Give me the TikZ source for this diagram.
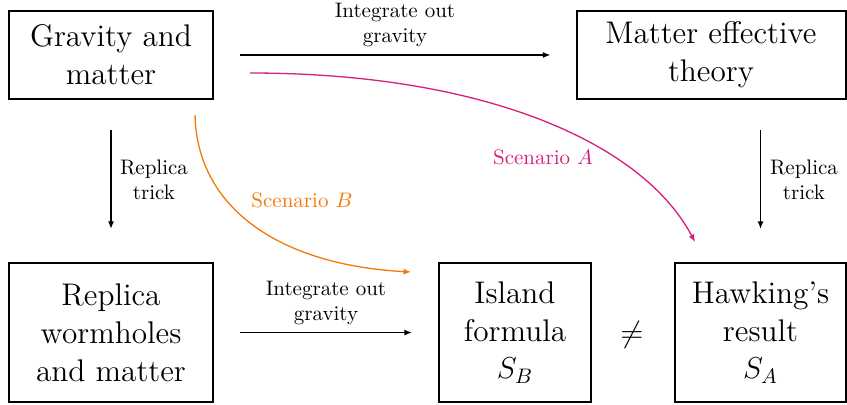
\documentclass[tikz,border=0pt]{standalone}
\usetikzlibrary{arrows.meta}
\definecolor{scA}{RGB}{214,30,122}
\definecolor{scB}{RGB}{243,122,10}
\begin{document}
\begin{tikzpicture}[x=0.47619pt,y=-0.47619pt,scale=2.1,every node/.style={transform shape},
  box/.style={draw, line width=2pt, align=center, font=\fontsize{14.9}{18}\selectfont, inner sep=0pt},
  lab/.style={align=center, font=\normalsize, inner sep=0pt},
  conn/.style={line width=1.3pt, -{Latex[length=7.5pt,width=6pt]}}]
\useasboundingbox (0,0) rectangle (847,404);
% boxes
\node[box, minimum width=97.14pt, minimum height=41.9pt] (G) at (111,55) {Gravity and\\matter};
\node[box, minimum width=128.1pt, minimum height=41.9pt] (M) at (711,55) {Matter effective\\theory};
\node[box, minimum width=97.14pt, minimum height=66.2pt] (R) at (111,332.5) {Replica\\wormholes\\and matter};
\node[box, minimum width=72.38pt, minimum height=66.2pt] (I) at (515,332.5) {Island\\formula\\$S_B$};
\node[box, minimum width=81.2pt, minimum height=66.2pt] (H) at (760.5,332.5) {Hawking's\\result\\$S_A$};
\node[font=\fontsize{14.9}{18}\selectfont, inner sep=0pt] (neq) at (632,335) {$\neq$};
% straight connectors
\draw[conn, shorten <=25pt, shorten >=24pt] (G.east) -- (M.west);
\draw[conn, shorten <=29pt, shorten >=32pt] (G.south) -- (R.north);
\draw[conn, shorten <=29pt, shorten >=32pt] (H.north |- M.south) -- (H.north);
\draw[conn, shorten <=25pt, shorten >=25pt] (R.east) -- (I.west);
% labels
\node[lab] (l1) at (395,25) {Integrate out\\gravity};
\node[lab] (l2) at (326,303) {Integrate out\\gravity};
\node[lab] (l3) at (154,180) {Replica\\trick};
\node[lab] (l4) at (804,180) {Replica\\trick};
% curved scenario connectors
\coordinate (aS) at (250,73);
\coordinate (aE) at (695,242);
\coordinate (bS) at (195,115);
\coordinate (bE) at (411,272);
\draw[conn, scA] (aS) .. controls (483,73) and (642,142) .. (aE);
\draw[conn, scB] (bS) .. controls (197,209) and (281,265) .. (bE);
\node[lab, text=scA] (sa) at (543,157) {Scenario $A$};
\node[lab, text=scB] (sb) at (302,200) {Scenario $B$};
\end{tikzpicture}
\end{document}
